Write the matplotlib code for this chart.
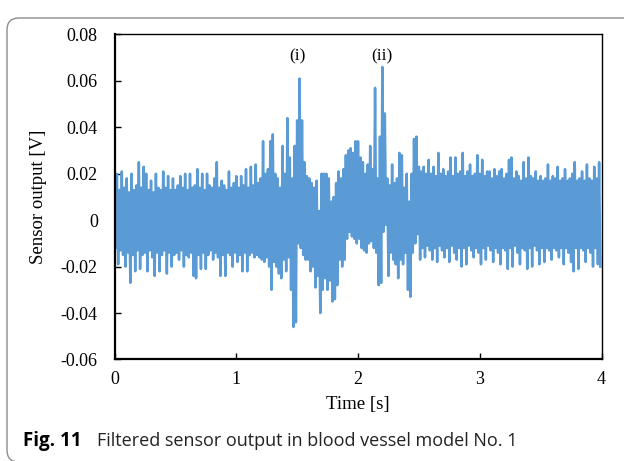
import numpy as np
import matplotlib
matplotlib.use("Agg")
import matplotlib.pyplot as plt
from matplotlib.patches import FancyBboxPatch

# Sensor output in mV: one upper and one lower
# excursion for every 0.02 s, rows of 25 = 0.5 s
peaks_hi = [
    14, 20, 13, 21, 14, 18, 12, 20, 13, 15, 25, 14, 23, 20, 13, 17, 12, 20, 14, 13, 21, 14, 19, 13, 18,
    13, 15, 19, 14, 20, 13, 20, 14, 15, 22, 14, 20, 13, 20, 15, 14, 18, 25, 14, 17, 15, 13, 21, 14, 16,
    19, 14, 19, 15, 22, 14, 23, 15, 24, 16, 18, 34, 20, 22, 34, 37, 20, 18, 14, 32, 20, 44, 27, 18, 32,
    43, 61, 43, 25, 19, 18, 16, 14, 17, 4, 20, 20, 20, 18, 8, 10, 16, 21, 18, 22, 28, 30, 31, 29, 34,
    34, 27, 25, 20, 24, 32, 22, 57, 18, 36, 66, 46, 18, 15, 24, 16, 18, 29, 28, 14, 20, 8, 20, 35, 36,
    23, 21, 23, 20, 26, 20, 23, 19, 29, 20, 22, 19, 21, 27, 19, 27, 20, 21, 29, 19, 21, 24, 19, 20, 28,
    20, 26, 19, 21, 21, 18, 22, 19, 21, 22, 18, 20, 26, 27, 18, 21, 19, 17, 25, 18, 27, 19, 18, 21, 17,
    19, 17, 18, 24, 17, 19, 18, 23, 17, 18, 22, 17, 18, 20, 25, 17, 18, 21, 17, 24, 18, 17, 23, 18, 25,
]
peaks_lo = [
    -12, -19, -13, -15, -20, -14, -27, -15, -22, -13, -21, -15, -14, -22, -13, -16, -24, -14, -22, -15, -13, -23, -14, -20, -15,
    -14, -17, -13, -20, -15, -16, -14, -24, -25, -15, -21, -14, -21, -15, -13, -17, -14, -16, -24, -15, -24, -14, -15, -20, -14,
    -18, -15, -22, -14, -22, -15, -14, -16, -15, -16, -17, -18, -16, -20, -30, -18, -20, -23, -25, -17, -22, -16, -30, -46, -44,
    -10, -12, -15, -17, -17, -22, -20, -29, -24, -40, -30, -25, -30, -26, -35, -34, -28, -17, -20, -17, -8, -5, -7, -8, -10,
    -8, -12, -13, -14, -10, -9, -12, -14, -28, -27, -5, -2, -24, -14, -17, -19, -25, -17, -19, -14, -30, -33, -14, -10, -6,
    -17, -12, -16, -11, -13, -17, -12, -18, -11, -13, -16, -12, -18, -11, -14, -17, -12, -20, -12, -19, -11, -13, -16, -12, -14,
    -19, -12, -17, -11, -13, -18, -12, -14, -19, -12, -13, -21, -12, -20, -11, -14, -19, -12, -13, -21, -12, -20, -11, -13, -19,
    -12, -18, -12, -13, -17, -12, -13, -16, -12, -19, -12, -14, -18, -22, -12, -21, -12, -13, -18, -12, -14, -20, -12, -19, -20,
]

y_ticks = [-0.06, -0.04, -0.02, 0, 0.02, 0.04, 0.06, 0.08]
y_tick_labels = ["-0.06", "-0.04", "-0.02", "0", "0.02", "0.04", "0.06", "0.08"]
x_ticks = [0, 1, 2, 3, 4]
peak_names = ["(i)", "(ii)"]
peak_pos = [(1.505, 0.0705), (2.196, 0.0705)]

dt = 0.02
n = len(peaks_hi)
t = np.empty(2 * n)
v = np.empty(2 * n)
t[0::2] = np.arange(n) * dt
t[1::2] = np.arange(n) * dt + dt / 2
v[0::2] = np.array(peaks_hi) / 1000.0
v[1::2] = np.array(peaks_lo) / 1000.0

serif = "Liberation Serif"

fig = plt.figure(figsize=(6.24, 4.61), dpi=100)
ax = fig.add_axes([0.1835, 0.2202, 0.7805, 0.705])

ax.plot(t, v, color="#5B9BD5", lw=1.8, solid_joinstyle="round")

ax.set_xlim(0, 4)
ax.set_ylim(-0.06, 0.08)
ax.set_xticks(x_ticks)
ax.set_xticklabels([str(x) for x in x_ticks], fontfamily=serif, fontsize=13)
ax.set_yticks(y_ticks)
ax.set_yticklabels(y_tick_labels, fontfamily=serif, fontsize=13)
ax.tick_params(axis="both", direction="in", length=4, width=1, color="black")
ax.tick_params(axis="x", pad=8)
ax.tick_params(axis="y", pad=12)

for side in ["left", "bottom"]:
    ax.spines[side].set_linewidth(1.6)
for side in ["top", "right"]:
    ax.spines[side].set_linewidth(1.0)

ax.set_xlabel("Time [s]", fontfamily=serif, fontsize=13.5, labelpad=6)
ax.set_ylabel("Sensor output [V]", fontfamily=serif, fontsize=13.5, labelpad=10)

for name, (px, py) in zip(peak_names, peak_pos):
    ax.text(px, py, name, fontfamily=serif, fontsize=12.5, ha="center", va="center")

# journal figure frame and caption
frame = FancyBboxPatch((0.07, -0.01), 6.4, 4.44, boxstyle="round,pad=0,rounding_size=0.12",
                       transform=fig.dpi_scale_trans, fill=False, ec="#8c8c8c", lw=1.0)
fig.patches.append(frame)
fig.text(23 / 624, 1 - 441 / 461, "Fig. 11", fontfamily="Open Sans", fontweight="bold",
         fontsize=13.5, va="center", ha="left")
fig.text(97 / 624, 1 - 441 / 461, "Filtered sensor output in blood vessel model No. 1",
         fontfamily="Open Sans", fontsize=13, va="center", ha="left", color="#222222")

fig.savefig("out.png", dpi=100)
